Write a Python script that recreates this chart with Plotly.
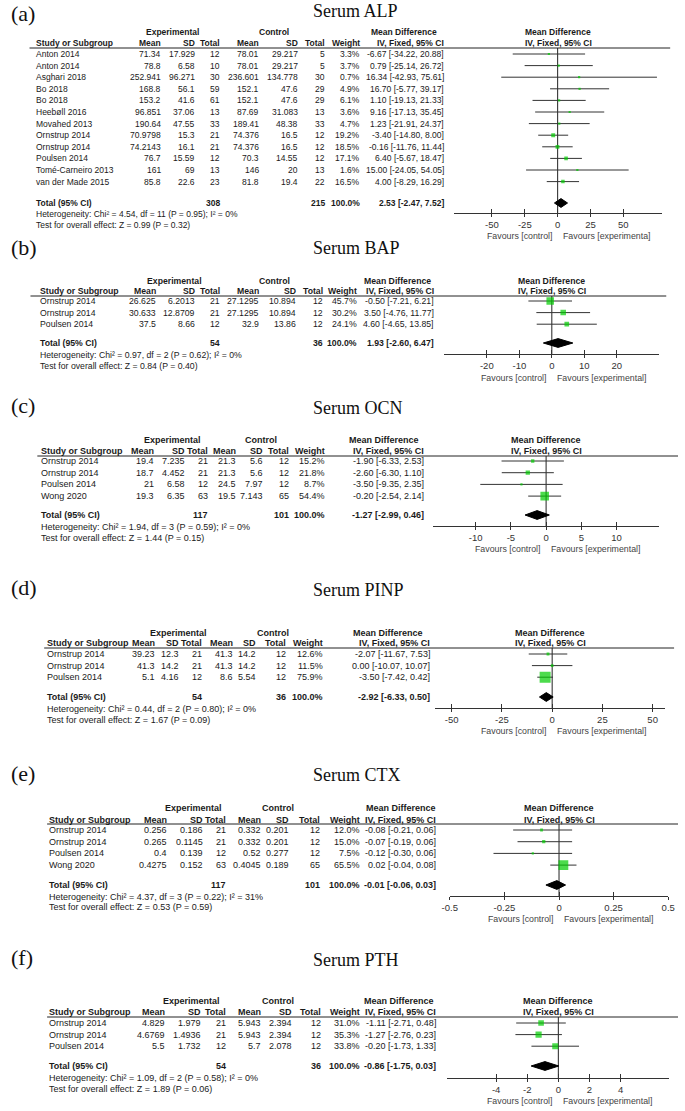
import plotly.graph_objects as go

W, H = 685, 1111
SANS = "Liberation Sans, Arial, sans-serif"
SERIF = "Liberation Serif, Times New Roman, Times, serif"
INK = "#1a1a1a"
GREEN = "#00CC00"

# ---------------- data ----------------
# (a) Serum ALP
alp_study = ["Anton 2014", "Anton 2014", "Asghari 2018", "Bo 2018", "Bo 2018", "Heebøll 2016",
             "Movahed 2013", "Ornstrup 2014", "Ornstrup 2014", "Poulsen 2014",
             "Tomé-Carneiro 2013", "van der Made 2015"]
alp_exp_mean = ["71.34", "78.8", "252.941", "168.8", "153.2", "96.851", "190.64", "70.9798", "74.2143", "76.7", "161", "85.8"]
alp_exp_sd = ["17.929", "6.58", "96.271", "56.1", "41.6", "37.06", "47.55", "15.3", "16.1", "15.59", "69", "22.6"]
alp_exp_n = [12, 10, 30, 59, 61, 13, 33, 21, 21, 12, 13, 23]
alp_ctl_mean = ["78.01", "78.01", "236.601", "152.1", "152.1", "87.69", "189.41", "74.376", "74.376", "70.3", "146", "81.8"]
alp_ctl_sd = ["29.217", "29.217", "134.778", "47.6", "47.6", "31.083", "48.38", "16.5", "16.5", "14.55", "20", "19.4"]
alp_ctl_n = [5, 5, 30, 29, 29, 13, 33, 12, 12, 12, 13, 22]
alp_weight = [3.3, 3.7, 0.7, 4.9, 6.1, 3.6, 4.7, 19.2, 18.5, 17.1, 1.6, 16.5]
alp_md = [-6.67, 0.79, 16.34, 16.70, 1.10, 9.16, 1.23, -3.40, -0.16, 6.40, 15.00, 4.00]
alp_lo = [-34.22, -25.14, -42.93, -5.77, -19.13, -17.13, -21.91, -14.80, -11.76, -5.67, -24.05, -8.29]
alp_hi = [20.88, 26.72, 75.61, 39.17, 21.33, 35.45, 24.37, 8.00, 11.44, 18.47, 54.05, 16.29]
alp_total = [308, 215, -2.47, 2.53, 7.52]
alp_het = "Heterogeneity: Chi² = 4.54, df = 11 (P = 0.95); I² = 0%"
alp_test = "Test for overall effect: Z = 0.99 (P = 0.32)"
alp_ticks = [-50, -25, 0, 25, 50]
alp_ticktext = ["-50", "-25", "0", "25", "50"]

# (b) Serum BAP
bap_study = ["Ornstrup 2014", "Ornstrup 2014", "Poulsen 2014"]
bap_exp_mean = ["26.625", "30.633", "37.5"]
bap_exp_sd = ["6.2013", "12.8709", "8.66"]
bap_exp_n = [21, 21, 12]
bap_ctl_mean = ["27.1295", "27.1295", "32.9"]
bap_ctl_sd = ["10.894", "10.894", "13.86"]
bap_ctl_n = [12, 12, 12]
bap_weight = [45.7, 30.2, 24.1]
bap_md = [-0.50, 3.50, 4.60]
bap_lo = [-7.21, -4.76, -4.65]
bap_hi = [6.21, 11.77, 13.85]
bap_total = [54, 36, -2.60, 1.93, 6.47]
bap_het = "Heterogeneity: Chi² = 0.97, df = 2 (P = 0.62); I² = 0%"
bap_test = "Test for overall effect: Z = 0.84 (P = 0.40)"
bap_ticks = [-20, -10, 0, 10, 20]
bap_ticktext = ["-20", "-10", "0", "10", "20"]

# (c) Serum OCN
ocn_study = ["Ornstrup 2014", "Ornstrup 2014", "Poulsen 2014", "Wong 2020"]
ocn_exp_mean = ["19.4", "18.7", "21", "19.3"]
ocn_exp_sd = ["7.235", "4.452", "6.58", "6.35"]
ocn_exp_n = [21, 21, 12, 63]
ocn_ctl_mean = ["21.3", "21.3", "24.5", "19.5"]
ocn_ctl_sd = ["5.6", "5.6", "7.97", "7.143"]
ocn_ctl_n = [12, 12, 12, 65]
ocn_weight = [15.2, 21.8, 8.7, 54.4]
ocn_md = [-1.90, -2.60, -3.50, -0.20]
ocn_lo = [-6.33, -6.30, -9.35, -2.54]
ocn_hi = [2.53, 1.10, 2.35, 2.14]
ocn_total = [117, 101, -2.99, -1.27, 0.46]
ocn_het = "Heterogeneity: Chi² = 1.94, df = 3 (P = 0.59); I² = 0%"
ocn_test = "Test for overall effect: Z = 1.44 (P = 0.15)"
ocn_ticks = [-10, -5, 0, 5, 10]
ocn_ticktext = ["-10", "-5", "0", "5", "10"]

# (d) Serum PINP
pinp_study = ["Ornstrup 2014", "Ornstrup 2014", "Poulsen 2014"]
pinp_exp_mean = ["39.23", "41.3", "5.1"]
pinp_exp_sd = ["12.3", "14.2", "4.16"]
pinp_exp_n = [21, 21, 12]
pinp_ctl_mean = ["41.3", "41.3", "8.6"]
pinp_ctl_sd = ["14.2", "14.2", "5.54"]
pinp_ctl_n = [12, 12, 12]
pinp_weight = [12.6, 11.5, 75.9]
pinp_md = [-2.07, 0.00, -3.50]
pinp_lo = [-11.67, -10.07, -7.42]
pinp_hi = [7.53, 10.07, 0.42]
pinp_total = [54, 36, -6.33, -2.92, 0.50]
pinp_het = "Heterogeneity: Chi² = 0.44, df = 2 (P = 0.80); I² = 0%"
pinp_test = "Test for overall effect: Z = 1.67 (P = 0.09)"
pinp_ticks = [-50, -25, 0, 25, 50]
pinp_ticktext = ["-50", "-25", "0", "25", "50"]

# (e) Serum CTX
ctx_study = ["Ornstrup 2014", "Ornstrup 2014", "Poulsen 2014", "Wong 2020"]
ctx_exp_mean = ["0.256", "0.265", "0.4", "0.4275"]
ctx_exp_sd = ["0.186", "0.1145", "0.139", "0.152"]
ctx_exp_n = [21, 21, 12, 63]
ctx_ctl_mean = ["0.332", "0.332", "0.52", "0.4045"]
ctx_ctl_sd = ["0.201", "0.201", "0.277", "0.189"]
ctx_ctl_n = [12, 12, 12, 65]
ctx_weight = [12.0, 15.0, 7.5, 65.5]
ctx_md = [-0.08, -0.07, -0.12, 0.02]
ctx_lo = [-0.21, -0.19, -0.30, -0.04]
ctx_hi = [0.06, 0.06, 0.06, 0.08]
ctx_total = [117, 101, -0.06, -0.01, 0.03]
ctx_het = "Heterogeneity: Chi² = 4.37, df = 3 (P = 0.22); I² = 31%"
ctx_test = "Test for overall effect: Z = 0.53 (P = 0.59)"
ctx_ticks = [-0.5, -0.25, 0, 0.25, 0.5]
ctx_ticktext = ["-0.5", "-0.25", "0", "0.25", "0.5"]

# (f) Serum PTH
pth_study = ["Ornstrup 2014", "Ornstrup 2014", "Poulsen 2014"]
pth_exp_mean = ["4.829", "4.6769", "5.5"]
pth_exp_sd = ["1.979", "1.4936", "1.732"]
pth_exp_n = [21, 21, 12]
pth_ctl_mean = ["5.943", "5.943", "5.7"]
pth_ctl_sd = ["2.394", "2.394", "2.078"]
pth_ctl_n = [12, 12, 12]
pth_weight = [31.0, 35.3, 33.8]
pth_md = [-1.11, -1.27, -0.20]
pth_lo = [-2.71, -2.76, -1.73]
pth_hi = [0.48, 0.23, 1.33]
pth_total = [54, 36, -1.75, -0.86, 0.03]
pth_het = "Heterogeneity: Chi² = 1.09, df = 2 (P = 0.58); I² = 0%"
pth_test = "Test for overall effect: Z = 1.89 (P = 0.06)"
pth_ticks = [-4, -2, 0, 2, 4]
pth_ticktext = ["-4", "-2", "0", "2", "4"]

panels = [
    dict(label="(a)", title="Serum ALP", study=alp_study, em=alp_exp_mean, es=alp_exp_sd, en=alp_exp_n,
         cm=alp_ctl_mean, cs=alp_ctl_sd, cn=alp_ctl_n, w=alp_weight, md=alp_md, lo=alp_lo, hi=alp_hi,
         tot=alp_total, het=alp_het, test=alp_test, ticks=alp_ticks, ticktext=alp_ticktext,
         fav=("Favours [control]", "Favours [experimenta]")),
    dict(label="(b)", title="Serum BAP", study=bap_study, em=bap_exp_mean, es=bap_exp_sd, en=bap_exp_n,
         cm=bap_ctl_mean, cs=bap_ctl_sd, cn=bap_ctl_n, w=bap_weight, md=bap_md, lo=bap_lo, hi=bap_hi,
         tot=bap_total, het=bap_het, test=bap_test, ticks=bap_ticks, ticktext=bap_ticktext,
         fav=("Favours [control]", "Favours [experimental]")),
    dict(label="(c)", title="Serum OCN", study=ocn_study, em=ocn_exp_mean, es=ocn_exp_sd, en=ocn_exp_n,
         cm=ocn_ctl_mean, cs=ocn_ctl_sd, cn=ocn_ctl_n, w=ocn_weight, md=ocn_md, lo=ocn_lo, hi=ocn_hi,
         tot=ocn_total, het=ocn_het, test=ocn_test, ticks=ocn_ticks, ticktext=ocn_ticktext,
         fav=("Favours [control]", "Favours [experimental]")),
    dict(label="(d)", title="Serum PINP", study=pinp_study, em=pinp_exp_mean, es=pinp_exp_sd, en=pinp_exp_n,
         cm=pinp_ctl_mean, cs=pinp_ctl_sd, cn=pinp_ctl_n, w=pinp_weight, md=pinp_md, lo=pinp_lo, hi=pinp_hi,
         tot=pinp_total, het=pinp_het, test=pinp_test, ticks=pinp_ticks, ticktext=pinp_ticktext,
         fav=("Favours [control]", "Favours [experimental]")),
    dict(label="(e)", title="Serum CTX", study=ctx_study, em=ctx_exp_mean, es=ctx_exp_sd, en=ctx_exp_n,
         cm=ctx_ctl_mean, cs=ctx_ctl_sd, cn=ctx_ctl_n, w=ctx_weight, md=ctx_md, lo=ctx_lo, hi=ctx_hi,
         tot=ctx_total, het=ctx_het, test=ctx_test, ticks=ctx_ticks, ticktext=ctx_ticktext,
         fav=("Favours [control]", "Favours [experimental]")),
    dict(label="(f)", title="Serum PTH", study=pth_study, em=pth_exp_mean, es=pth_exp_sd, en=pth_exp_n,
         cm=pth_ctl_mean, cs=pth_ctl_sd, cn=pth_ctl_n, w=pth_weight, md=pth_md, lo=pth_lo, hi=pth_hi,
         tot=pth_total, het=pth_het, test=pth_test, ticks=pth_ticks, ticktext=pth_ticktext,
         fav=("Favours [control]", "Favours [experimental]")),
]

# ---------------- layout geometry (pixels) ----------------
geo = [
    dict(label_y=14, title_y=11, exp_y=32, hdr_y=43, line_y=48, row0=54, step=11.6, total_y=203, axis_y=213, fav_y=236,
         sx=28, cols=[157, 192, 218, 258, 298, 325, 361, 447], exp_c=168, ctl_c=272, mdh_c=405,
         lx=(22, 677), fx=(456, 669), xr=(-78.9, 79.7), fs=8.5),
    dict(label_y=247, title_y=248, exp_y=281, hdr_y=291, line_y=296, row0=301, step=11.6, total_y=343, axis_y=354, fav_y=378,
         sx=32, cols=[152, 192, 218, 258, 295, 323, 358, 437], exp_c=170, ctl_c=272, mdh_c=398,
         lx=(23, 673), fx=(446, 666), xr=(-33.1, 33.1), fs=8.7),
    dict(label_y=405, title_y=408, exp_y=440, hdr_y=451, line_y=456, row0=461, step=11.7, total_y=515, axis_y=526, fav_y=549,
         sx=33, cols=[150, 182, 206, 234, 262, 288, 325, 426], exp_c=168, ctl_c=259, mdh_c=384,
         lx=(30, 685), fx=(435, 666), xr=(-16.0, 16.1), fs=9.0),
    dict(label_y=587, title_y=590, exp_y=633, hdr_y=643, line_y=648, row0=654, step=11.6, total_y=697, axis_y=708, fav_y=731,
         sx=39, cols=[151, 176, 199, 231, 255, 285, 323, 432], exp_c=174, ctl_c=271, mdh_c=389,
         lx=(37, 681), fx=(437, 672), xr=(-58.1, 56.3), fs=9.0),
    dict(label_y=773, title_y=775, exp_y=808, hdr_y=819.5, line_y=824, row0=830, step=11.7, total_y=885, axis_y=896, fav_y=919,
         sx=41, cols=[164, 200, 224, 260, 288, 320, 361, 439], exp_c=190, ctl_c=276, mdh_c=402,
         lx=(40, 685), fx=(451.7, 675), xr=(-0.5, 0.5), fs=9.0),
    dict(label_y=957, title_y=960, exp_y=1001, hdr_y=1012, line_y=1017, row0=1023, step=11.6, total_y=1066, axis_y=1078, fav_y=1101,
         sx=41, cols=[162, 198, 224, 260, 291, 321, 361, 439], exp_c=188, ctl_c=276, mdh_c=400,
         lx=(40, 685), fx=(449, 676), xr=(-7.15, 7.13), fs=9.0),
]

fig = go.Figure()


def px(y):
    return 1 - y / H


def txt(x, y, s, anchor="right", size=9, bold=False, color=INK, family=SANS):
    fig.add_annotation(x=x / W, y=px(y), xref="paper", yref="paper",
                       text=("<b>" + s + "</b>") if bold else s, showarrow=False,
                       xanchor=anchor, yanchor="middle", borderpad=0,
                       font=dict(family=family, size=size, color=color))


layout_axes = {}
shapes = []
for k, (p, g) in enumerate(zip(panels, geo), start=1):
    fs = g["fs"]
    n = len(p["study"])
    xa = "x" if k == 1 else f"x{k}"
    ya = "y" if k == 1 else f"y{k}"
    xo = f"x{k + 6}"
    # titles
    txt(2, g["label_y"], p["label"], anchor="left", size=22, family=SERIF, color="#111")
    txt(311, g["title_y"], p["title"], anchor="left", size=18, family=SERIF, color="#111")
    c = g["cols"]
    # group headers
    txt(g["exp_c"], g["exp_y"], "Experimental", anchor="center", size=fs, bold=True)
    txt(g["ctl_c"], g["exp_y"], "Control", anchor="center", size=fs, bold=True)
    txt(g["mdh_c"], g["exp_y"], "Mean Difference", anchor="center", size=fs, bold=True)
    fc = (g["fx"][0] + g["fx"][1]) / 2
    txt(fc, g["exp_y"], "Mean Difference", anchor="center", size=fs, bold=True)
    # column headers
    txt(g["sx"], g["hdr_y"], "Study or Subgroup", anchor="left", size=fs, bold=True)
    for xx, s in zip(c, ["Mean", "SD", "Total", "Mean", "SD", "Total", "Weight", "IV, Fixed, 95% CI"]):
        txt(xx, g["hdr_y"], s, size=fs, bold=True)
    txt(fc, g["hdr_y"], "IV, Fixed, 95% CI", anchor="center", size=fs, bold=True)
    shapes.append(dict(type="line", xref="paper", yref="paper", x0=g["lx"][0] / W, x1=g["lx"][1] / W,
                       y0=px(g["line_y"]), y1=px(g["line_y"]), line=dict(color="#222", width=1)))
    # rows
    for i in range(n):
        y = g["row0"] + i * g["step"]
        txt(g["sx"], y, p["study"][i], anchor="left", size=fs)
        vals = [p["em"][i], p["es"][i], str(p["en"][i]), p["cm"][i], p["cs"][i], str(p["cn"][i]),
                f"{p['w'][i]:.1f}%", f"{p['md'][i]:.2f} [{p['lo'][i]:.2f}, {p['hi'][i]:.2f}]"]
        for xx, s in zip(c, vals):
            txt(xx, y, s, size=fs)
    # total
    t = p["tot"]
    ty = g["total_y"]
    txt(g["sx"], ty, "Total (95% CI)", anchor="left", size=fs, bold=True)
    txt(c[2], ty, str(t[0]), size=fs, bold=True)
    txt(c[5], ty, str(t[1]), size=fs, bold=True)
    txt(c[6], ty, "100.0%", size=fs, bold=True)
    txt(c[7], ty, f"{t[3]:.2f} [{t[2]:.2f}, {t[4]:.2f}]", size=fs, bold=True)
    txt(g["sx"], ty + 11.5, p["het"], anchor="left", size=fs)
    txt(g["sx"], ty + 22.5, p["test"], anchor="left", size=fs)

    # forest plot through axes
    step = g["step"]
    t_idx = (ty - g["row0"]) / step
    ci_x, ci_y = [], []
    for i in range(n):
        ci_x += [p["lo"][i], p["hi"][i], None]
        ci_y += [i, i, None]
    fig.add_trace(go.Scatter(x=ci_x, y=ci_y, mode="lines", line=dict(color="#333333", width=1),
                             xaxis=xa, yaxis=ya, hoverinfo="skip", showlegend=False))
    sizes = [max(2.2, 11.0 * (w / 75.9) ** 0.75) for w in p["w"]]
    fig.add_trace(go.Scatter(x=p["md"], y=list(range(n)), mode="markers",
                             marker=dict(symbol="square", size=sizes, color=GREEN, line=dict(width=0)),
                             xaxis=xa, yaxis=ya, hoverinfo="skip", showlegend=False))
    hh = 4.4 / step
    fig.add_trace(go.Scatter(x=[t[2], t[3], t[4], t[3], t[2]], y=[t_idx, t_idx - hh, t_idx, t_idx + hh, t_idx],
                             mode="lines", fill="toself", fillcolor="black", line=dict(color="black", width=1),
                             xaxis=xa, yaxis=ya, hoverinfo="skip", showlegend=False))
    fig.add_trace(go.Scatter(x=[0], y=[0], mode="markers", marker=dict(opacity=0, size=1),
                             xaxis=xo, yaxis=ya, hoverinfo="skip", showlegend=False))
    dom_x = [g["fx"][0] / W, g["fx"][1] / W]
    y_bot = (g["axis_y"] - g["row0"]) / step
    y_top = (g["line_y"] - g["row0"]) / step
    xkey = "xaxis" if k == 1 else f"xaxis{k}"
    ykey = "yaxis" if k == 1 else f"yaxis{k}"
    layout_axes[xkey] = dict(domain=dom_x, range=list(g["xr"]), anchor=ya, showline=True, linecolor="#333",
                             linewidth=1, ticks="outside", ticklen=3, tickcolor="#333", tickwidth=1,
                             tickvals=p["ticks"], ticktext=p["ticktext"], showgrid=False, zeroline=False,
                             tickfont=dict(family=SANS, size=9.5, color="#333"), fixedrange=True)
    layout_axes[f"xaxis{k + 6}"] = dict(domain=dom_x, range=list(g["xr"]), anchor=ya, overlaying=xa,
                                        side="bottom", ticks="inside", ticklen=4, tickcolor="#333", tickwidth=1,
                                        tickvals=p["ticks"], showticklabels=False, showline=False,
                                        showgrid=False, zeroline=False, fixedrange=True)
    layout_axes[ykey] = dict(domain=[px(g["axis_y"]), px(g["line_y"])], range=[y_bot, y_top], visible=False,
                             showgrid=False, zeroline=False, fixedrange=True)
    shapes.append(dict(type="line", xref=xa, yref=f"{ya} domain", x0=0, x1=0, y0=0, y1=1,
                       line=dict(color="#222", width=1), layer="below"))
    # favours labels
    fig.add_annotation(x=0, xref=xa, y=px(g["fav_y"]), yref="paper", text=p["fav"][0], showarrow=False,
                       xanchor="right", yanchor="middle", xshift=-3,
                       font=dict(family=SANS, size=8.8, color="#444"))
    fig.add_annotation(x=0, xref=xa, y=px(g["fav_y"]), yref="paper", text=p["fav"][1], showarrow=False,
                       xanchor="left", yanchor="middle", xshift=3,
                       font=dict(family=SANS, size=8.8, color="#444"))

fig.update_layout(width=W, height=H, margin=dict(l=0, r=0, t=0, b=0), paper_bgcolor="white",
                  plot_bgcolor="rgba(0,0,0,0)", showlegend=False, shapes=shapes, **layout_axes)
fig.write_html("out.html", config={"displayModeBar": False},
               post_script="document.body.style.margin='0px';document.body.style.overflow='hidden';")
